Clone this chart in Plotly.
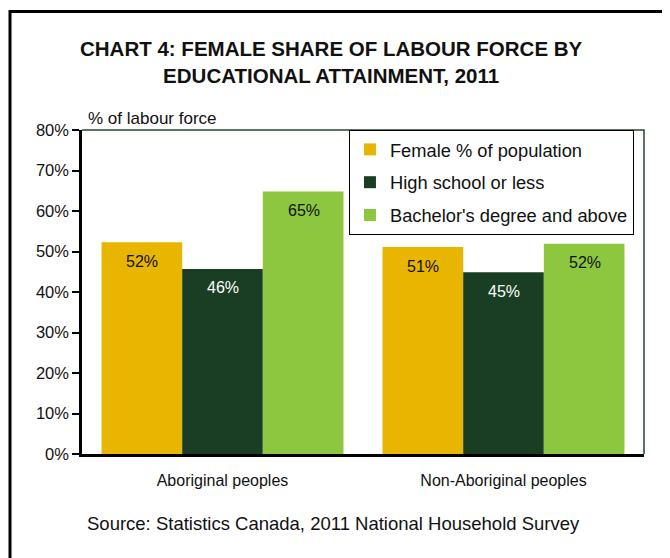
import plotly.graph_objects as go

categories = ["Aboriginal peoples", "Non-Aboriginal peoples"]
series_names = ["Female % of population", "High school or less", "Bachelor's degree and above"]
female_pop = [52.3, 51.1]
high_school = [45.7, 44.9]
bachelor = [64.8, 51.9]
series_values = [female_pop, high_school, bachelor]
colors = ["#E8B500", "#1A3E24", "#8DC63F"]
label_colors = ["#111111", "#FFFFFF", "#111111"]
y_ticks = [0, 10, 20, 30, 40, 50, 60, 70, 80]
y_tick_labels = [f"{v}%" for v in y_ticks]

FONT = "Liberation Sans, Arial, sans-serif"

fig = go.Figure()
for i, (name, vals) in enumerate(zip(series_names, series_values)):
    fig.add_trace(go.Bar(
        x=categories, y=vals, name=name,
        marker=dict(color=colors[i], line=dict(width=0)),
        legendgroup=f"g{i}",
        hoverinfo="x+y+name",
    ))

# value labels inside the bars, below their tops
shifts = [-81, 0, 81]
annotations = []
for i, vals in enumerate(series_values):
    for c, v in zip(categories, vals):
        annotations.append(dict(
            x=c, y=v, xref="x", yref="y", text=f"{round(v)}%",
            showarrow=False, xshift=shifts[i], yshift=-19, yanchor="middle",
            font=dict(family=FONT, size=16, color=label_colors[i]),
        ))

# title
annotations.append(dict(
    x=0.4448, y=1.2114, xref="paper", yref="paper",
    text="<b>CHART 4: FEMALE SHARE OF LABOUR FORCE BY<br>EDUCATIONAL ATTAINMENT, 2011</b>",
    showarrow=False, xanchor="center", yanchor="middle",
    font=dict(family=FONT, size=20.5, color="#111111"),
))
# axis unit label
annotations.append(dict(
    x=0.0071, y=1.037, xref="paper", yref="paper", text="% of labour force",
    showarrow=False, xanchor="left", yanchor="middle",
    font=dict(family=FONT, size=17, color="#111111"),
))
# source
annotations.append(dict(
    x=0.0053, y=-0.216, xref="paper", yref="paper",
    text="Source: Statistics Canada, 2011 National Household Survey",
    showarrow=False, xanchor="left", yanchor="middle",
    font=dict(family=FONT, size=18.5, color="#111111"),
))

shapes = [
    # outer frame (top and left edges)
    dict(type="path", xref="paper", yref="paper",
         path="M -0.1281 -1 L -0.1281 1.3657 L 1.2 1.3657",
         line=dict(color="#000000", width=3)),
    # plot area top and right border
    dict(type="path", xref="paper", yref="paper",
         path="M 0 1 L 1 1 L 1 0",
         line=dict(color="#1F4A2C", width=1.5)),
]

fig.update_layout(
    width=670, height=558,
    margin=dict(l=74, r=34, t=122, b=112),
    paper_bgcolor="white", plot_bgcolor="white",
    barmode="group", bargap=0.139, bargroupgap=0,
    font=dict(family=FONT, size=16, color="#111111"),
    showlegend=True,
    legend=dict(
        x=0.475, y=1.0, xanchor="left", yanchor="top",
        bgcolor="white", bordercolor="#000000", borderwidth=1,
        font=dict(family=FONT, size=18.3, color="#111111"),
        tracegroupgap=6, traceorder="grouped",
    ),
    annotations=annotations,
    shapes=shapes,
)
fig.update_xaxes(
    showgrid=False, showline=True, linecolor="#000000", linewidth=2.5,
    ticks="", tickfont=dict(family=FONT, size=16, color="#111111"),
    ticklabelstandoff=10,
)
fig.update_yaxes(
    range=[0, 80], tickvals=y_ticks, ticktext=y_tick_labels,
    showgrid=False, zeroline=False, showline=True, linecolor="#000000", linewidth=2.5,
    ticks="outside", ticklen=7, tickwidth=2, tickcolor="#000000",
    tickfont=dict(family=FONT, size=16.5, color="#111111"),
)

fig.write_html("out.html")
